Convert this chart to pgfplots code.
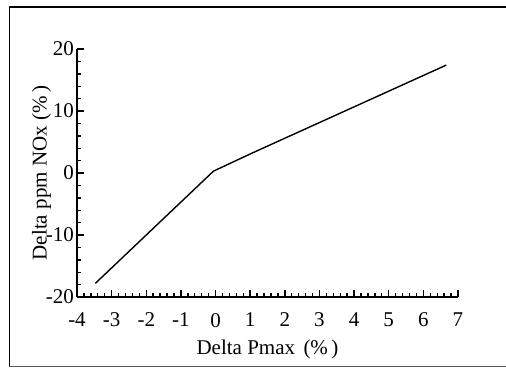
\documentclass[border=0pt]{standalone}
\usepackage{fontspec}
\setmainfont{Liberation Serif}
\usepackage{pgfplots}
\pgfplotsset{compat=1.18}
\begin{document}
\begin{tikzpicture}[x=1pt,y=1pt]
\useasboundingbox (-77,-70) rectangle (429,297);
\draw[line width=1.8pt] (-67.5,-69) -- (-67.5,290) -- (429,290);
\draw[line width=1pt, black!65] (-68,-69) -- (429,-69);
\begin{axis}[
  at={(0,0)}, anchor=south west,
  scale only axis, width=381pt, height=248pt,
  xmin=-4, xmax=7, ymin=-20, ymax=20,
  axis x line*=bottom, axis y line*=left,
  axis line style={line width=1.8pt},
  xtick={-4,...,7}, ytick={-20,-10,0,10,20},
  minor x tick num=4, minor y tick num=4,
  tick style={line width=1.4pt, black},
  major tick length=7.5pt, minor tick length=4.5pt,
  tick align=inside,
  font=\fontsize{21}{25}\selectfont,
  /pgf/number format/assume math mode=true,
  ticklabel style={font=\fontsize{21}{25}\selectfont},
  xticklabel style={yshift=-12.5pt},
  yticklabel style={xshift=0.5pt},
  xlabel={Delta Pmax\hspace{0.4em}(\%\,)},
  ylabel={Delta ppm NOx (\%\,)},
  every axis x label/.style={at={(axis description cs:0.5,-0.2097)}, anchor=center},
  every axis y label/.style={at={(axis description cs:-0.0927,0.5)}, rotate=90, anchor=center},
  clip=false,
]
\addplot[black, line width=1.4pt] coordinates {(-3.47,-17.8) (-0.06,0.3) (1.05,3.2) (6.66,17.4)};
\end{axis}
\end{tikzpicture}
\end{document}
